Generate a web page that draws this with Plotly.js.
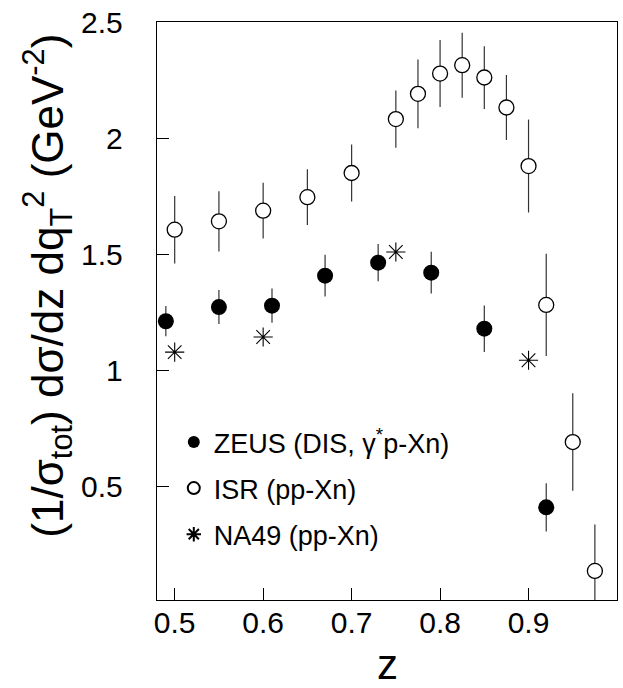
<!DOCTYPE html>
<html>
<head>
<meta charset="utf-8">
<script src="https://cdn.plot.ly/plotly-3.0.1.min.js"></script>
<style>
html,body{margin:0;padding:0;background:#fff;}
#chart{width:623px;height:688px;}
</style>
</head>
<body>
<div id="chart"></div>
<script>
// ZEUS (DIS, gamma* p -> Xn)
const zeusZ   = [0.49, 0.55, 0.61, 0.67, 0.73, 0.79, 0.85, 0.92];
const zeusVal = [1.212, 1.273, 1.279, 1.408, 1.464, 1.421, 1.180, 0.411];
const zeusErr = [0.065, 0.073, 0.074, 0.090, 0.080, 0.090, 0.100, 0.104];

// ISR (pp -> Xn)
const isrZ   = [0.5, 0.55, 0.6, 0.65, 0.7, 0.75, 0.775, 0.8, 0.825, 0.85, 0.875, 0.9, 0.92, 0.95, 0.975];
const isrVal = [1.606, 1.642, 1.688, 1.746, 1.850, 2.082, 2.191, 2.278, 2.314, 2.261, 2.132, 1.880, 1.282, 0.692, 0.137];
const isrErr = [0.145, 0.130, 0.120, 0.120, 0.123, 0.123, 0.148, 0.144, 0.140, 0.135, 0.140, 0.200, 0.220, 0.210, 0.200];

// NA49 (pp -> Xn)
const na49Z   = [0.5, 0.6, 0.75, 0.9];
const na49Val = [1.079, 1.144, 1.510, 1.044];

const seriesNames = ['ZEUS (DIS, γ<sup>*</sup>p-Xn)', 'ISR (pp-Xn)', 'NA49 (pp-Xn)'];
const xTicks = [0.5, 0.6, 0.7, 0.8, 0.9, 1];
const xTickText = ['0.5', '0.6', '0.7', '0.8', '0.9', '1'];
const yTicks = [0.5, 1, 1.5, 2, 2.5];
const yTickText = ['0.5', '1', '1.5', '2', '2.5'];
const xTitle = 'z';
const yTitle = '(1/σ<sub>tot</sub>) dσ/dz dq<sub>T</sub><sup>2</sup> (GeV<sup>-2</sup>)';

const FONT = '"Liberation Sans", Arial, Helvetica, sans-serif';
const errStyle = {type: 'data', visible: true, thickness: 1.2, width: 0, color: '#333'};

const traces = [
  {
    x: zeusZ, y: zeusVal, type: 'scatter', mode: 'markers', name: seriesNames[0], legendgroup: 'a',
    error_y: Object.assign({array: zeusErr}, errStyle),
    marker: {symbol: 'circle', size: 16, color: '#000', line: {width: 0}}
  },
  {
    x: isrZ, y: isrVal, type: 'scatter', mode: 'markers', name: seriesNames[1], legendgroup: 'b',
    error_y: Object.assign({array: isrErr}, errStyle),
    marker: {symbol: 'circle', size: 15, color: '#fff', line: {width: 1.3, color: '#000'}}
  },
  {
    x: na49Z, y: na49Val, type: 'scatter', mode: 'markers', name: seriesNames[2], legendgroup: 'c',
    marker: {symbol: 'asterisk-open', size: 16, color: '#000', line: {width: 1.1, color: '#000'}}
  }
];

const layout = {
  width: 623, height: 688,
  margin: {l: 157, r: 6, t: 22, b: 88, pad: 0},
  paper_bgcolor: '#fff', plot_bgcolor: '#fff',
  font: {family: FONT, color: '#000', size: 30},
  showlegend: true,
  legend: {
    x: 0.0365, y: 0.315, xanchor: 'left', yanchor: 'top',
    bgcolor: 'rgba(0,0,0,0)', borderwidth: 0,
    font: {family: FONT, size: 27, color: '#000'},
    itemsizing: 'constant', traceorder: 'grouped', tracegroupgap: 8
  },
  xaxis: {
    range: [0.48, 1.0], tickmode: 'array', tickvals: xTicks, ticktext: xTickText,
    ticks: 'inside', ticklen: 12, tickwidth: 1, tickcolor: '#000',
    showline: true, linecolor: '#000', linewidth: 1.2, mirror: true,
    showgrid: false, zeroline: false,
    tickfont: {family: FONT, size: 30, color: '#000'},
    ticklabelstandoff: -4
  },
  yaxis: {
    range: [0.012, 2.5], tickmode: 'array', tickvals: yTicks, ticktext: yTickText,
    ticks: 'inside', ticklen: 12, tickwidth: 1, tickcolor: '#000',
    showline: true, linecolor: '#000', linewidth: 1.2, mirror: true,
    showgrid: false, zeroline: false,
    tickfont: {family: FONT, size: 30, color: '#000'},
    ticklabelstandoff: 27
  },
  annotations: [
    {
      xref: 'paper', yref: 'paper', x: -0.238, y: 0.543, xanchor: 'center', yanchor: 'middle',
      textangle: -90, showarrow: false, text: yTitle,
      font: {family: FONT, size: 44, color: '#000'}
    },
    {
      xref: 'paper', yref: 'paper', x: 0.5, y: -0.111, xanchor: 'center', yanchor: 'middle',
      showarrow: false, text: xTitle,
      font: {family: FONT, size: 42, color: '#000'}
    }
  ]
};

Plotly.newPlot('chart', traces, layout, {displayModeBar: false, staticPlot: true});
</script>
</body>
</html>
